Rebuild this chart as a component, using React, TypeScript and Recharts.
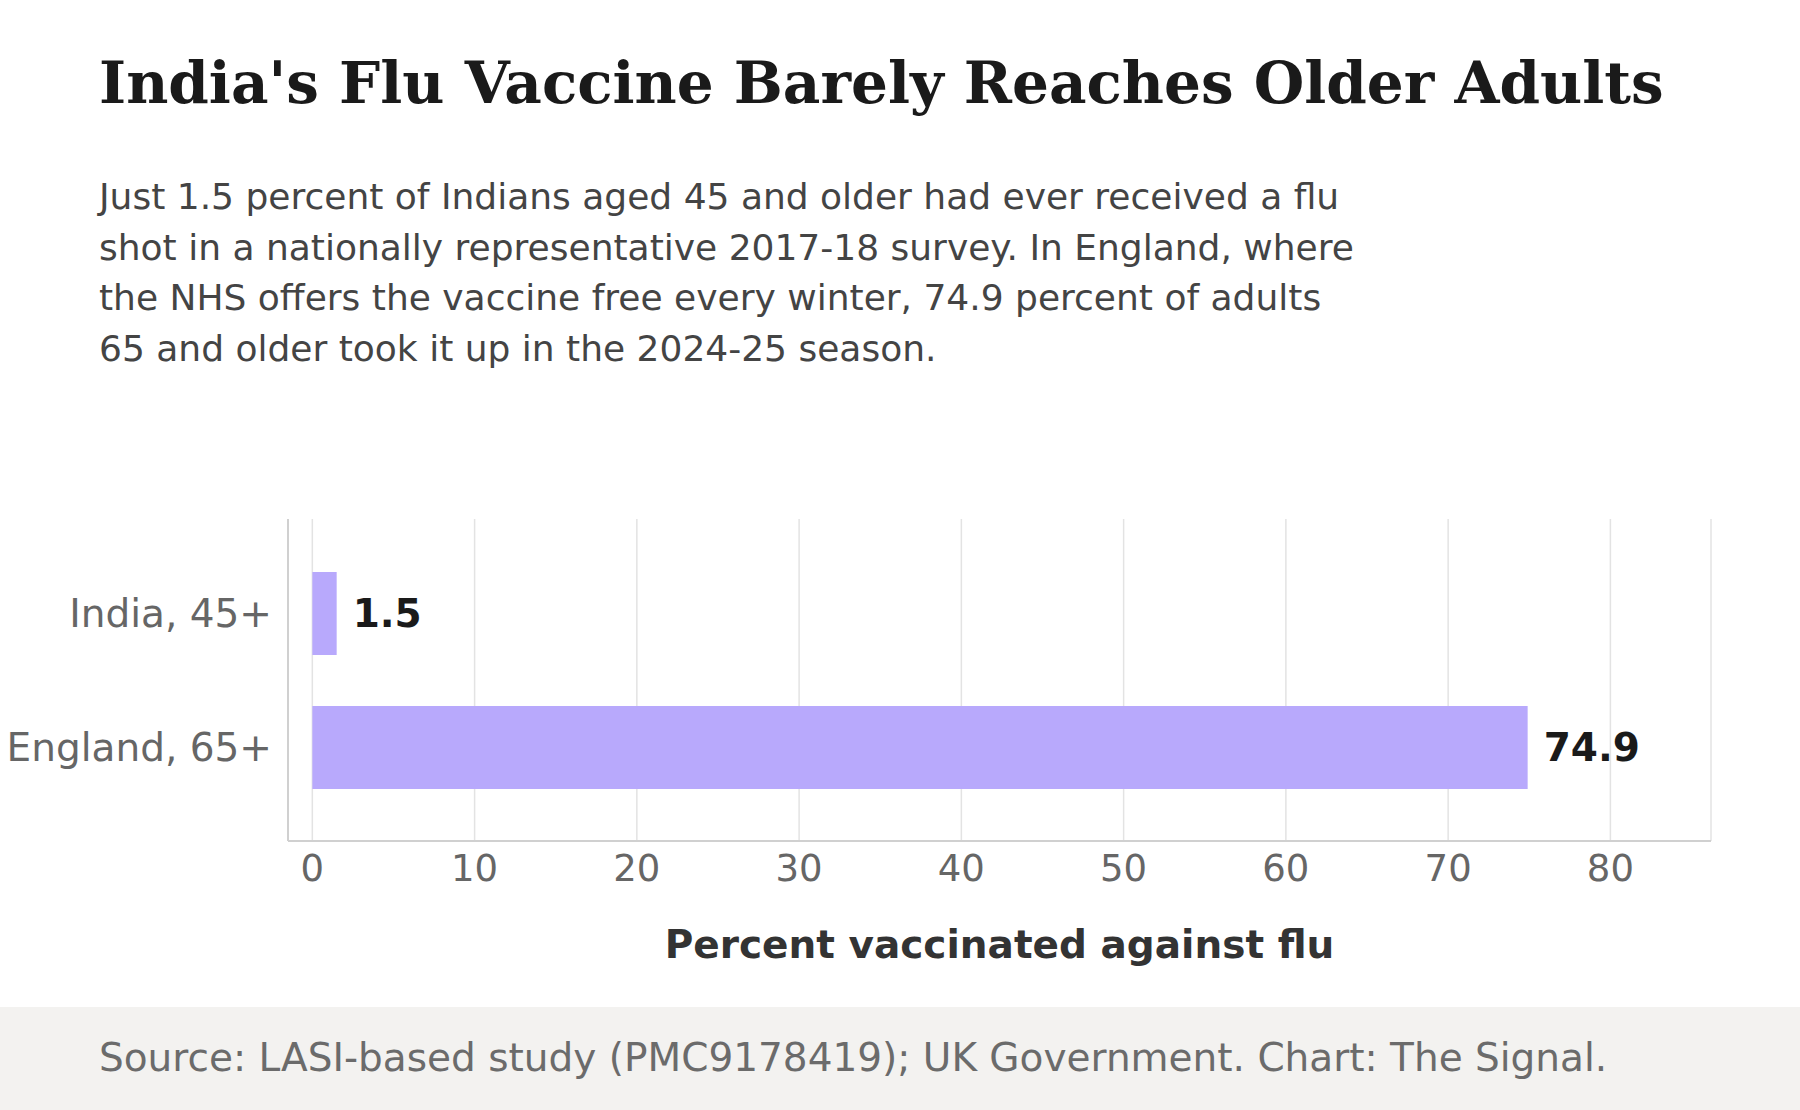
import React from 'react';
import { BarChart, Bar, XAxis, YAxis, CartesianGrid, LabelList } from 'recharts';

const categories = ['India, 45+', 'England, 65+'];
const values = [1.5, 74.9];
const xTicks = [0, 10, 20, 30, 40, 50, 60, 70, 80];

const data = categories.map((name, i) => ({ name, value: values[i] }));

const sans = '"DejaVu Sans", sans-serif';

export default function App() {
  return (
    <div style={{ position: 'absolute', left: 0, top: 0, width: 1800, height: 1110, background: '#fff', fontFamily: sans }}>
      <div style={{ position: 'absolute', left: 99, top: 49, fontFamily: '"DejaVu Serif", serif', fontWeight: 'bold', fontSize: 58, color: '#1a1a1a', whiteSpace: 'nowrap' }}>
        India's Flu Vaccine Barely Reaches Older Adults
      </div>
      <div style={{ position: 'absolute', left: 99, top: 172, width: 1500, fontSize: 36, lineHeight: '50.5px', color: '#444', whiteSpace: 'nowrap' }}>
        Just 1.5 percent of Indians aged 45 and older had ever received a flu<br />
        shot in a nationally representative 2017-18 survey. In England, where<br />
        the NHS offers the vaccine free every winter, 74.9 percent of adults<br />
        65 and older took it up in the 2024-25 season.
      </div>
      <div style={{ position: 'absolute', left: 0, top: 0 }}>
        <BarChart width={1800} height={1006} data={data} layout="vertical" margin={{ top: 519, bottom: 0, left: 0, right: 89 }}>
          <CartesianGrid horizontal={false} stroke="#e3e3e3" strokeWidth={1.5} />
          <XAxis type="number" domain={[-1.5, 86.2]} ticks={xTicks} allowDataOverflow tickLine={false}
            axisLine={{ stroke: '#d0d0d0', strokeWidth: 2 }} tickMargin={8}
            tick={{ fontSize: 37, fill: '#666', fontFamily: sans }} height={165} />
          <YAxis type="category" dataKey="name" width={288} tickLine={false} padding={{ top: 27, bottom: 27 }}
            axisLine={{ stroke: '#d0d0d0', strokeWidth: 2 }} tickMargin={10}
            tick={{ fontSize: 39, fill: '#666', fontFamily: sans }} />
          <Bar dataKey="value" fill="#b8a9fc" barSize={83} isAnimationActive={false}>
            <LabelList dataKey="value" position="right" offset={16}
              style={{ fontSize: 39, fontWeight: 'bold', fill: '#1a1a1a', fontFamily: sans }} />
          </Bar>
        </BarChart>
      </div>
      <div style={{ position: 'absolute', left: 288, width: 1423, top: 922, textAlign: 'center', fontSize: 39, fontWeight: 'bold', color: '#333' }}>
        Percent vaccinated against flu
      </div>
      <div style={{ position: 'absolute', left: 0, top: 1007, width: 1800, height: 103, background: '#f3f2f0' }}>
        <div style={{ position: 'absolute', left: 99, top: 28, fontSize: 39, color: '#6b6b6b', whiteSpace: 'nowrap' }}>
          Source: LASI-based study (PMC9178419); UK Government. Chart: The Signal.
        </div>
      </div>
    </div>
  );
}
